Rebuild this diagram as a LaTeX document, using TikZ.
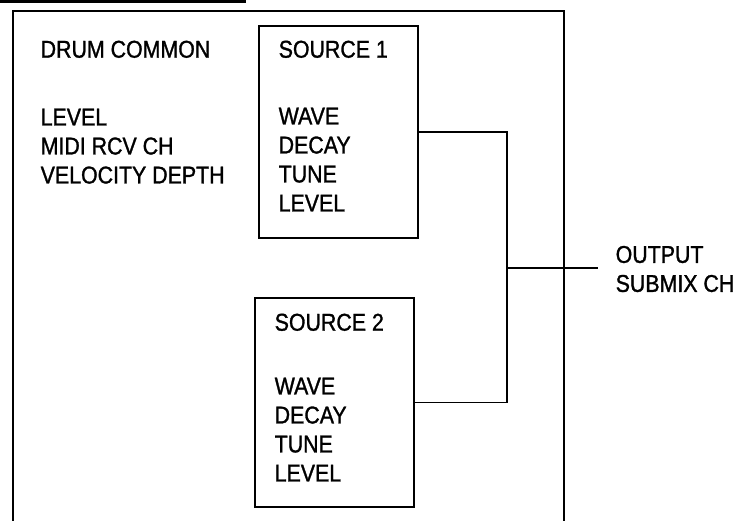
\documentclass[tikz,border=0pt]{standalone}
\usepackage{fontspec}
\setmainfont{Liberation Sans}[FakeStretch=0.88, FakeBold=1.2]
\usetikzlibrary{positioning}

\begin{document}
\begin{tikzpicture}[
	x=0.01cm, y=-0.01cm,
	source/.style={rectangle, draw=black, line width=0.55pt, minimum width=1.59cm, inner sep=0pt},
	param/.style={anchor=north west, inner sep=0pt, align=left, font=\fontsize{6.9}{8.25}\selectfont},
	frame/.style={draw=black, line width=0.6pt},
	wire/.style={draw=black, line width=0.45pt}
	]
	\useasboundingbox (0,0) rectangle (742,520);
	
	% outer frame and cut-off header
	\draw[frame, line width=1.3pt] (0,1) -- (246,1);
	\draw[frame] (13,530) -- (13,11) -- (564,11) -- (564,530);
	
	% drum common
	\node[param] (common) at (40,40) {DRUM COMMON};
	\node[param] (commonpar) at (40,108) {LEVEL\\MIDI RCV CH\\VELOCITY DEPTH};
	
	% sources
	\node[source, minimum height=2.12cm] (src1) at (338.5,132) {};
	\node[param] (src1title) at (278,40) {SOURCE 1};
	\node[param] (src1par) at (278,107) {WAVE\\DECAY\\TUNE\\LEVEL};
	
	\node[source, minimum height=2.09cm] (src2) at (334.5,402.5) {};
	\node[param] (src2title) at (274,313) {SOURCE 2};
	\node[param] (src2par) at (274,377) {WAVE\\DECAY\\TUNE\\LEVEL};
	
	% output
	\coordinate (join) at (507,268);
	\coordinate (outend) at (598,268);
	\node[param, anchor=west] (output) at (615,269) {OUTPUT\\SUBMIX CH};
	\draw[wire] (src1.east) -| (join) |- (src2.east);
	\draw[wire] (join) -- (outend);
	
\end{tikzpicture}
\end{document}
